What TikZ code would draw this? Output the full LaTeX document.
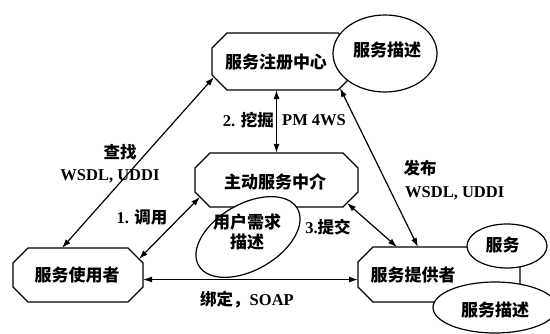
\documentclass[tikz,border=0pt]{standalone}
\usepackage{fontspec}
\setmainfont{Liberation Serif}
\newfontfamily\cjk{Noto Sans CJK SC}
\usetikzlibrary{shapes.geometric,arrows.meta,calc}
\newcommand\octpath[2]{%
 \draw[octline] ($(#1.north west)+(#2,0)$) -- ($(#1.north east)+(-#2,0)$) -- ($(#1.north east)+(0,#2)$) -- ($(#1.south east)+(0,-#2)$) -- ($(#1.south east)+(-#2,0)$) -- ($(#1.south west)+(#2,0)$) -- ($(#1.south west)+(0,-#2)$) -- ($(#1.north west)+(0,#2)$) -- cycle;}
\begin{document}
\begin{tikzpicture}[x=1pt,y=-1pt,
  oct/.style={rectangle, draw=none, inner sep=0pt, outer sep=0pt},
  octline/.style={line width=1.2pt, fill=white, line join=miter},
  ell/.style={draw, line width=1.2pt, fill=white},
  boxtext/.style={font=\cjk\bfseries\fontsize{17}{20}\selectfont, inner sep=0pt},
  lab/.style={font=\bfseries\fontsize{16.5}{19}\selectfont, inner sep=0pt},
  conn/.style={line width=1.2pt, {Latex[length=9pt,width=6pt]}-{Latex[length=9pt,width=6pt]}}
]
\useasboundingbox (0,0) rectangle (550,334);
% boxes
\node[oct, minimum width=141pt, minimum height=57pt] (reg) at (282.5,61.5) {};
\node[oct, minimum width=163pt, minimum height=54pt] (mid) at (276.5,180) {};
\node[oct, minimum width=130pt, minimum height=54pt] (user) at (78,275) {};
\node[oct, minimum width=162pt, minimum height=55pt] (prov) at (439,274.5) {};
\octpath{reg}{15}
\octpath{mid}{15}
\octpath{user}{15}
\octpath{prov}{15}
% ellipses
\node[ell, ellipse, minimum width=104pt, minimum height=77pt, inner sep=0pt] (regdesc) at (385,53.5) {};
\draw[ell, rotate around={30:(248,237)}] (248,237) ellipse [x radius=57, y radius=33];
\node[ell, ellipse, minimum width=80pt, minimum height=44pt, inner sep=0pt] (svc) at (507,246) {};
\node[ell, ellipse, minimum width=124pt, minimum height=51pt, inner sep=0pt] (provdesc) at (495,307.5) {};
% texts
\node[boxtext] (regt) at (276,62) {服务注册中心};
\node[boxtext] (midt) at (275,182) {主动服务中介};
\node[boxtext] (usert) at (77,275) {服务使用者};
\node[boxtext] (provt) at (413,275) {服务提供者};
\node[boxtext] (regdesct) at (387,50) {服务描述};
\node[boxtext] (svct) at (502.5,245) {服务};
\node[boxtext] (provdesct) at (495,310) {服务描述};
\node[boxtext, align=center] (needt) at (247,232) {用户需求\\描述};
% connectors
\draw[conn] ($(reg.south west)+(2,-13)$) -- ($(user.north west)+(49,0)$);
\draw[conn] (mid.north) -- (mid.north |- reg.south);
\draw[conn] ($(reg.south east)+(-13,-2)$) -- ($(prov.north west)+(60,0)$);
\draw[conn] ($(user.north east)+(-4,11)$) -- ($(mid.south west)+(5,-10)$);
\draw[conn] ($(mid.south east)+(-11,-4)$) -- ($(prov.north west)+(39,0)$);
\draw[conn] (user.-4) -- (user.-4 -| prov.west);
% labels
\node[lab] (l1) at (120,152) {\cjk 查找};
\node[lab] (l2) at (110,176) {WSDL, UDDI};
\node[lab, anchor=east] (l3) at (274,120) {2. {\cjk 挖掘}};
\node[lab, anchor=west] (l4) at (282,120) {PM 4WS};
\node[lab] (l5) at (142,217) {1. {\cjk 调用}};
\node[lab] (l6) at (328,227) {3.{\cjk 提交}};
\node[lab] (l7) at (420,168) {\cjk 发布};
\node[lab, anchor=west] (l8) at (405,193) {WSDL, UDDI};
\node[lab] (l9) at (247,300) {{\cjk 绑定，}SOAP};
\end{tikzpicture}
\end{document}
